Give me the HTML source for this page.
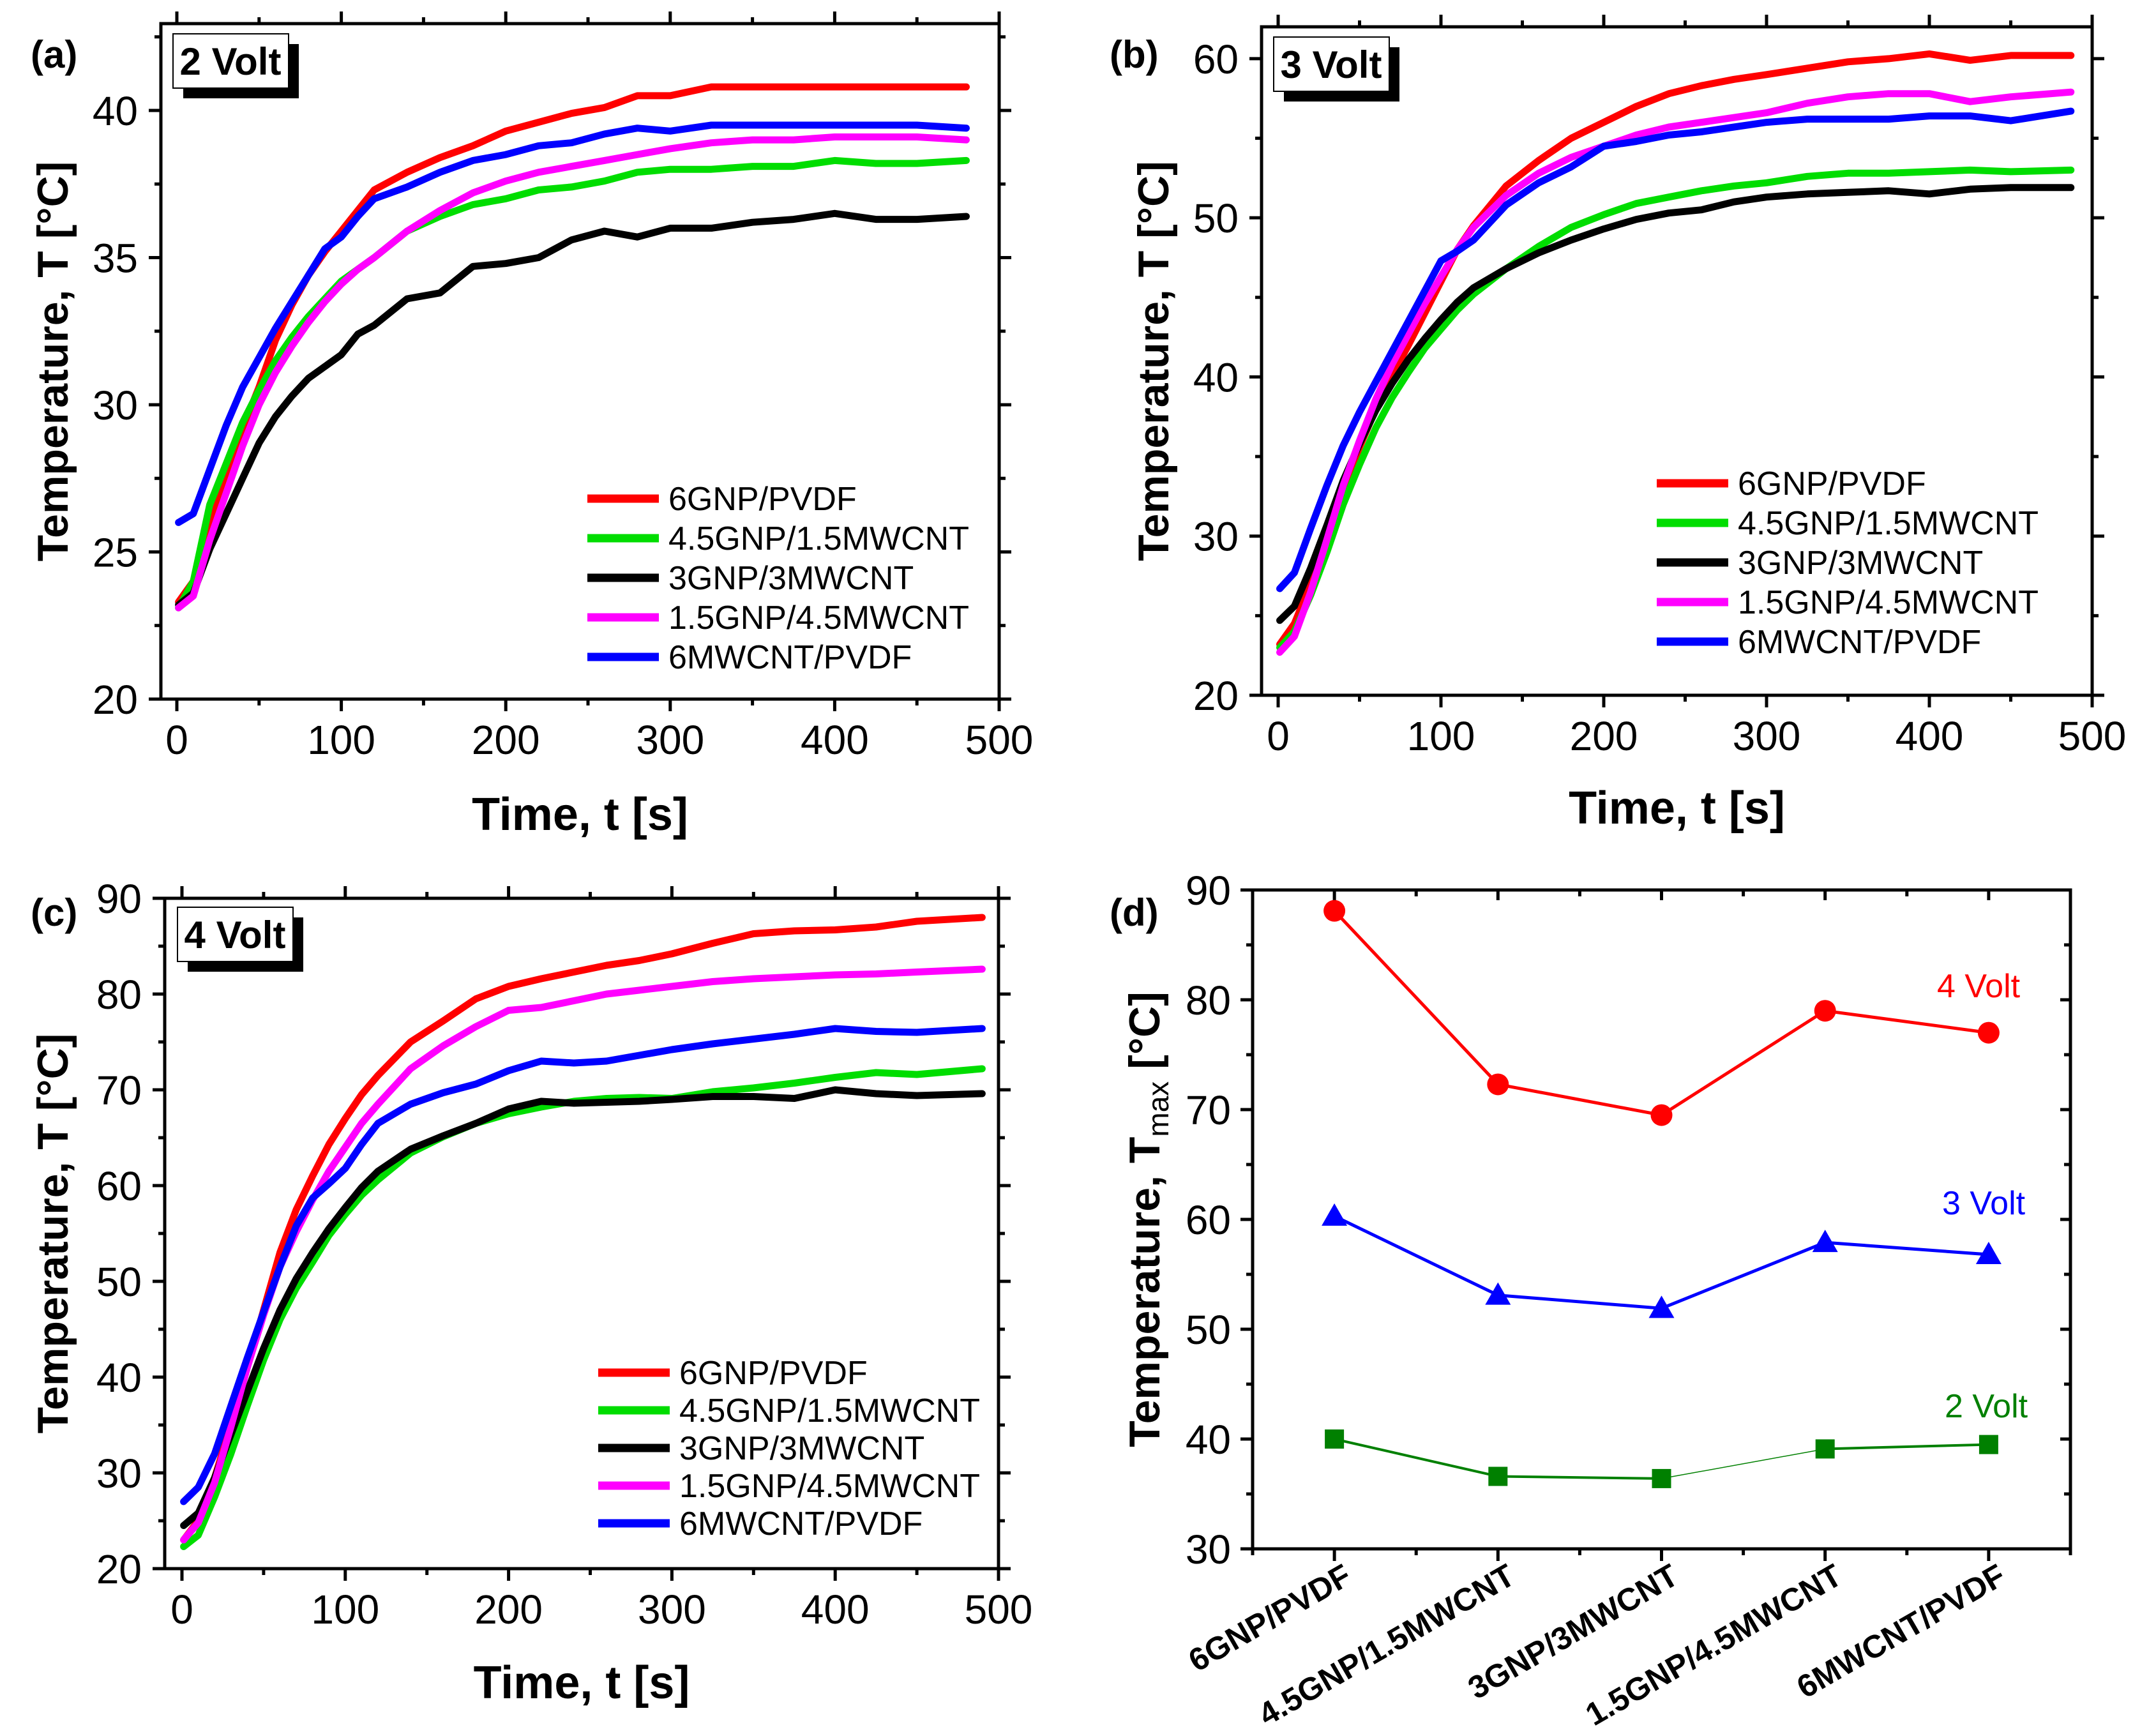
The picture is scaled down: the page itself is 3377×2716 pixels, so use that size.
<!DOCTYPE html>
<html><head><meta charset="utf-8">
<style>
html,body{margin:0;padding:0;background:#fff;}
svg{display:block;font-family:"Liberation Sans",Arial,sans-serif;}
</style></head>
<body>
<svg id="fig" width="3377" height="2716" viewBox="0 0 3377 2716" xmlns="http://www.w3.org/2000/svg"></svg>
<script>
// ---------- data ----------
const seriesNames = ["6GNP/PVDF","4.5GNP/1.5MWCNT","3GNP/3MWCNT","1.5GNP/4.5MWCNT","6MWCNT/PVDF"];
const timeA = [1,10,20,30,40,50,60,70,80,90,100,110,120,140,160,180,200,220,240,260,280,300,325,350,375,400,425,450,480];
const timeB = [1,10,20,30,40,50,60,70,80,90,100,110,120,140,160,180,200,220,240,260,280,300,325,350,375,400,425,450,487];
const timeC = [1,10,20,30,40,50,60,70,80,90,100,110,120,140,160,180,200,220,240,260,280,300,325,350,375,400,425,450,490];

const a_6GNP   = [23.3,24.0,25.8,27.6,29.2,30.6,32.2,33.4,34.4,35.2,35.9,36.6,37.3,37.9,38.4,38.8,39.3,39.6,39.9,40.1,40.5,40.5,40.8,40.8,40.8,40.8,40.8,40.8,40.8];
const a_45GNP  = [23.1,24.0,26.6,28.0,29.4,30.5,31.5,32.3,33.0,33.6,34.2,34.6,35.0,35.9,36.4,36.8,37.0,37.3,37.4,37.6,37.9,38.0,38.0,38.1,38.1,38.3,38.2,38.2,38.3];
const a_3GNP   = [23.2,23.6,25.1,26.3,27.5,28.7,29.6,30.3,30.9,31.3,31.7,32.4,32.7,33.6,33.8,34.7,34.8,35.0,35.6,35.9,35.7,36.0,36.0,36.2,36.3,36.5,36.3,36.3,36.4];
const a_15GNP  = [23.1,23.5,25.4,27.0,28.6,30.0,31.1,32.0,32.8,33.5,34.1,34.6,35.0,35.9,36.6,37.2,37.6,37.9,38.1,38.3,38.5,38.7,38.9,39.0,39.0,39.1,39.1,39.1,39.0];
const a_6MWCNT = [26.0,26.3,27.8,29.3,30.6,31.6,32.6,33.5,34.4,35.3,35.7,36.4,37.0,37.4,37.9,38.3,38.5,38.8,38.9,39.2,39.4,39.3,39.5,39.5,39.5,39.5,39.5,39.5,39.4];

const b_6GNP   = [23.2,24.5,27.0,30.0,33.0,35.6,38.0,40.1,42.0,44.0,46.0,48.0,49.5,52.0,53.6,55.0,56.0,57.0,57.8,58.3,58.7,59.0,59.4,59.8,60.0,60.3,59.9,60.2,60.2];
const b_45GNP  = [23.0,24.0,26.3,29.0,32.0,34.5,36.8,38.7,40.3,41.8,43.0,44.2,45.2,46.8,48.2,49.4,50.2,50.9,51.3,51.7,52.0,52.2,52.6,52.8,52.8,52.9,53.0,52.9,53.0];
const b_3GNP   = [24.7,25.6,28.0,30.7,33.5,35.8,37.9,39.6,41.1,42.4,43.6,44.7,45.6,46.8,47.8,48.6,49.3,49.9,50.3,50.5,51.0,51.3,51.5,51.6,51.7,51.5,51.8,51.9,51.9];
const b_15GNP  = [22.7,23.7,26.5,29.8,33.2,36.0,38.6,40.8,42.7,44.6,46.3,48.0,49.4,51.4,52.8,53.8,54.5,55.2,55.7,56.0,56.3,56.6,57.2,57.6,57.8,57.8,57.3,57.6,57.9];
const b_6MWCNT = [26.7,27.7,30.5,33.2,35.7,37.8,39.7,41.6,43.5,45.4,47.3,47.9,48.6,50.8,52.2,53.2,54.5,54.8,55.2,55.4,55.7,56.0,56.2,56.2,56.2,56.4,56.4,56.1,56.7];

const c_6GNP   = [23.0,25.0,29.5,35.0,41.0,47.0,53.0,57.5,61.0,64.3,67.0,69.5,71.5,75.0,77.2,79.5,80.8,81.6,82.3,83.0,83.5,84.2,85.3,86.3,86.6,86.7,87.0,87.6,88.0];
const c_45GNP  = [22.3,23.5,27.5,32.0,37.0,41.8,46.0,49.3,52.0,54.8,57.0,59.0,60.6,63.4,65.1,66.5,67.5,68.2,68.8,69.1,69.2,69.1,69.8,70.2,70.7,71.3,71.8,71.6,72.2];
const c_3GNP   = [24.5,25.8,29.5,34.0,38.5,43.0,47.0,50.3,53.0,55.5,57.7,59.8,61.5,63.8,65.2,66.5,68.0,68.8,68.6,68.7,68.8,69.0,69.3,69.3,69.1,70.0,69.6,69.4,69.6];
const c_15GNP  = [23.0,24.8,29.0,34.8,41.0,46.5,51.5,55.2,58.5,61.5,64.0,66.5,68.5,72.2,74.6,76.6,78.3,78.6,79.3,80.0,80.4,80.8,81.3,81.6,81.8,82.0,82.1,82.3,82.6];
const c_6MWCNT = [27.0,28.5,32.0,37.0,42.0,46.8,51.5,55.8,58.7,60.2,61.8,64.3,66.5,68.5,69.7,70.6,72.0,73.0,72.8,73.0,73.6,74.2,74.8,75.3,75.8,76.4,76.1,76.0,76.4];

const dCategories = ["6GNP/PVDF","4.5GNP/1.5MWCNT","3GNP/3MWCNT","1.5GNP/4.5MWCNT","6MWCNT/PVDF"];
const d_4volt = [88.1,72.3,69.5,79.0,77.0];
const d_3volt = [60.3,53.1,51.9,57.9,56.8];
const d_2volt = [40.0,36.6,36.4,39.1,39.5];

const xTicksTime = [0,100,200,300,400,500];
const yTicksA = [20,25,30,35,40];
const yTicksB = [20,30,40,50,60];
const yTicksC = [20,30,40,50,60,70,80,90];
const yTicksD = [30,40,50,60,70,80,90];

// ---------- helpers ----------
const NS = "http://www.w3.org/2000/svg";
const svg = document.getElementById("fig");
const colors = ["#ff0000","#00dd00","#000000","#ff00ff","#0000ff"];
function el(tag, attrs, parent, text){
  const e = document.createElementNS(NS, tag);
  for (const k in attrs) e.setAttribute(k, attrs[k]);
  if (text !== undefined) e.textContent = text;
  (parent||svg).appendChild(e);
  return e;
}
function lin(d0,d1,p0,p1){ return v => p0 + (v-d0)*(p1-p0)/(d1-d0); }

function drawFrame(g, L, T, R, B){
  el("rect",{x:L,y:T,width:R-L,height:B-T,fill:"none",stroke:"#000","stroke-width":5},g);
}
function tickX(g, x, B, T, len, topInward){
  el("line",{x1:x,y1:B,x2:x,y2:B+len,stroke:"#000","stroke-width":5},g);
  if (topInward) el("line",{x1:x,y1:T,x2:x,y2:T+len,stroke:"#000","stroke-width":5},g);
  else el("line",{x1:x,y1:T,x2:x,y2:T-len,stroke:"#000","stroke-width":5},g);
}
function tickY(g, y, L, R, len, rightInward){
  el("line",{x1:L,y1:y,x2:L-len,y2:y,stroke:"#000","stroke-width":5},g);
  if (rightInward) el("line",{x1:R,y1:y,x2:R-len,y2:y,stroke:"#000","stroke-width":5},g);
  else el("line",{x1:R,y1:y,x2:R+len,y2:y,stroke:"#000","stroke-width":5},g);
}

function timePanel(cfg){
  const g = el("g",{});
  
  
  const sx = lin(0,500,cfg.x0,cfg.x500);
  const sy = lin(cfg.yMin,cfg.yMax,cfg.B,cfg.T);
  cfg.series.forEach((vals,i)=>{
    const pts = cfg.time.map((t,j)=> sx(t).toFixed(1)+","+sy(vals[j]).toFixed(1)).join(" ");
    const pl = el("polyline",{points:pts,fill:"none",stroke:colors[i],"stroke-width":11,"stroke-linejoin":"round","stroke-linecap":"round"},g);
    
    
  });
  drawFrame(g, cfg.L, cfg.T, cfg.R, cfg.B);
  for (let v=0; v<=500; v+=50){
    const major = v%100===0;
    tickX(g, sx(v), cfg.B, cfg.T, major?19:10, false);
  }
  xTicksTime.forEach(v=>{
    const t = el("text",{x:sx(v),y:cfg.B+86,"font-size":64,"text-anchor":"middle"},g,String(v));
    
    
  });
  const step = cfg.yTicks[1]-cfg.yTicks[0];
  for (let v=cfg.yTicks[0]; v<=cfg.yMax+0.001; v+=step/2){
    const major = Math.abs(((v-cfg.yTicks[0])/step) - Math.round((v-cfg.yTicks[0])/step))<1e-6;
    tickY(g, sy(v), cfg.L, cfg.R, major?19:10, false);
  }
  cfg.yTicks.forEach(v=>{
    const t = el("text",{x:cfg.L-36,y:sy(v)+23,"font-size":64,"text-anchor":"end"},g,String(v));
    
    
  });
  const xt = el("text",{x:(cfg.L+cfg.R)/2,y:cfg.xTitleY,"font-size":72,"font-weight":"bold","text-anchor":"middle"},g,"Time, t [s]");
  
  
  const cy=(cfg.T+cfg.B)/2;
  const yt = el("text",{x:cfg.yTitleX,y:cy,"font-size":68,"font-weight":"bold","text-anchor":"middle",transform:`rotate(-90 ${cfg.yTitleX} ${cy})`},g,"Temperature, T [\u00B0C]");
  
  
  const pl = el("text",{x:cfg.labX,y:cfg.labY,"font-size":60,"font-weight":"bold"},g,cfg.label);
  
  
  const vb = el("g",{},g);
  
  
  el("rect",{x:cfg.vbx+16,y:cfg.vby+16,width:181,height:85,fill:"#000"},vb);
  el("rect",{x:cfg.vbx,y:cfg.vby,width:181,height:85,fill:"#fff",stroke:"#000","stroke-width":2},vb);
  el("text",{x:cfg.vbx+90,y:cfg.vby+64,"font-size":60,"font-weight":"bold","text-anchor":"middle"},vb,cfg.volt);
  const lg = el("g",{},g);
  
  
  seriesNames.forEach((n,i)=>{
    const y = cfg.legY + i*cfg.legDy;
    const e = el("g",{},lg);
    
    
    el("line",{x1:cfg.legX,y1:y,x2:cfg.legX+112,y2:y,stroke:colors[i],"stroke-width":13},e);
    el("text",{x:cfg.legX+127,y:y+18,"font-size":52},e,n);
  });
}

timePanel({name:"panel-a-2volt",label:"(a)",labX:48,labY:106,volt:"2 Volt",vbx:271,vby:53,
  L:252,R:1565,T:37,B:1095,x0:277,x500:1565,yMin:20,yMax:42.95,yTicks:yTicksA,
  time:timeA,series:[a_6GNP,a_45GNP,a_3GNP,a_15GNP,a_6MWCNT],
  xTitleY:1300,yTitleX:106,legX:920,legY:781,legDy:62});
timePanel({name:"panel-b-3volt",label:"(b)",labX:1738,labY:106,volt:"3 Volt",vbx:1995,vby:58,
  L:1976,R:3277,T:42,B:1089,x0:2002,x500:3277,yMin:20,yMax:62.0,yTicks:yTicksB,
  time:timeB,series:[b_6GNP,b_45GNP,b_3GNP,b_15GNP,b_6MWCNT],
  xTitleY:1290,yTitleX:1830,legX:2595,legY:757,legDy:62});
timePanel({name:"panel-c-4volt",label:"(c)",labX:48,labY:1450,volt:"4 Volt",vbx:278,vby:1421,
  L:258,R:1564,T:1407,B:2457,x0:285,x500:1564,yMin:20,yMax:90,yTicks:yTicksC,
  time:timeC,series:[c_6GNP,c_45GNP,c_3GNP,c_15GNP,c_6MWCNT],
  xTitleY:2660,yTitleX:106,legX:937,legY:2150,legDy:59});

// ---------- panel d ----------
(function(){
  const L=1962,R=3243,T=1394,B=2426;
  const g = el("g",{});
  
  
  const sx = lin(-0.5,4.5,L,R);
  const sy = lin(30,90,B,T);
  drawFrame(g,L,T,R,B);
  for (let i=-0.5;i<=4.5;i+=0.5){
    const major = Number.isInteger(i);
    el("line",{x1:sx(i),y1:B,x2:sx(i),y2:B+(major?19:10),stroke:"#000","stroke-width":5},g);
    el("line",{x1:sx(i),y1:T,x2:sx(i),y2:T+(major?16:10),stroke:"#000","stroke-width":5},g);
  }
  for (let v=30; v<=90; v+=5){
    const major = v%10===0;
    el("line",{x1:L,y1:sy(v),x2:L-(major?19:10),y2:sy(v),stroke:"#000","stroke-width":5},g);
    el("line",{x1:R,y1:sy(v),x2:R-(major?16:10),y2:sy(v),stroke:"#000","stroke-width":5},g);
  }
  yTicksD.forEach(v=>{
    const t = el("text",{x:L-34,y:sy(v)+23,"font-size":64,"text-anchor":"end"},g,String(v));
    
    
  });
  dCategories.forEach((c,i)=>{
    const x = sx(i)+30, y = B+52;
    const t = el("text",{x:x,y:y,"font-size":50,"font-weight":"bold","text-anchor":"end",transform:`rotate(-30 ${x} ${y})`},g,c);
    
    
  });
  const series = [
    {vals:d_4volt,color:"#ff0000",marker:"circle",w:5,label:"4 Volt",lx:3034,ly:1562,name:"series-4volt"},
    {vals:d_3volt,color:"#0000ff",marker:"triangle",w:5,label:"3 Volt",lx:3042,ly:1902,name:"series-3volt"},
    {vals:d_2volt,color:"#008000",marker:"square",w:4,label:"2 Volt",lx:3046,ly:2220,name:"series-2volt"}
  ];
  series.forEach(s=>{
    const sg = el("g",{},g);
    
    
    for (let i=0;i<s.vals.length-1;i++){
      const w = (s.marker==="square" && i===2) ? 1.5 : s.w;
      el("line",{x1:sx(i),y1:sy(s.vals[i]),x2:sx(i+1),y2:sy(s.vals[i+1]),stroke:s.color,"stroke-width":w},sg);
    }
    s.vals.forEach((v,i)=>{
      const x=sx(i), y=sy(v);
      let m;
      if (s.marker==="circle") m = el("circle",{cx:x,cy:y,r:17,fill:s.color},sg);
      else if (s.marker==="triangle") m = el("polygon",{points:`${x},${y-20} ${x-20},${y+15} ${x+20},${y+15}`,fill:s.color},sg);
      else m = el("rect",{x:x-15,y:y-15,width:30,height:30,fill:s.color},sg);
      
      
    });
    const t = el("text",{x:s.lx,y:s.ly,"font-size":52,fill:s.color},g,s.label);
    
    
  });
  const yx=1816, cy=(T+B)/2;
  const yt = el("text",{x:yx,y:cy,"font-size":68,"font-weight":"bold","text-anchor":"middle",transform:`rotate(-90 ${yx} ${cy})`},g);
  
  
  el("tspan",{},yt,"Temperature, T");
  el("tspan",{"font-size":46,"font-weight":"normal",dy:14},yt,"max");
  el("tspan",{dy:-14},yt," [\u00B0C]");
  const pl = el("text",{x:1738,y:1450,"font-size":60,"font-weight":"bold"},g,"(d)");
  
  
})();
</script>
</body></html>
